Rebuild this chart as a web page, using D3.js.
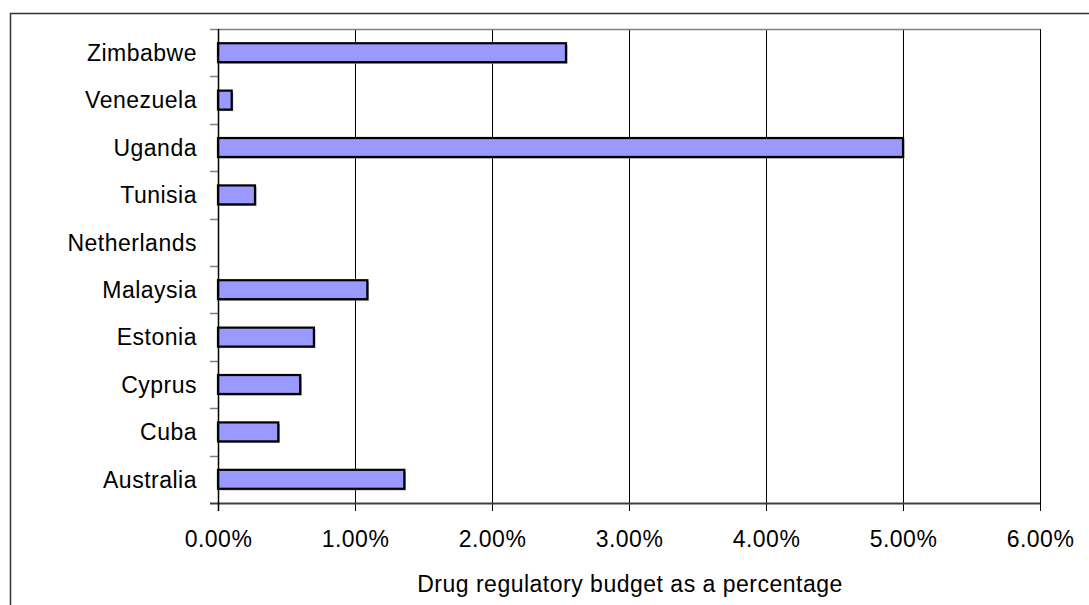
<!DOCTYPE html>
<html>
<head>
<meta charset="utf-8">
<script src="https://cdn.jsdelivr.net/npm/d3@7"></script>
<style>
  html, body { margin: 0; padding: 0; background: #fff; }
  svg { display: block; }
  text { font-family: "Liberation Sans", Arial, sans-serif; font-size: 23px; letter-spacing: 0.5px; fill: #000; }
</style>
</head>
<body>
<svg id="chart" width="1089" height="605"></svg>
<script>
const categories = ["Zimbabwe", "Venezuela", "Uganda", "Tunisia", "Netherlands", "Malaysia", "Estonia", "Cyprus", "Cuba", "Australia"];
const values = [2.54, 0.10, 5.00, 0.27, 0, 1.09, 0.70, 0.60, 0.44, 1.36];
const xTicks = [0, 1, 2, 3, 4, 5, 6];
const xTickLabels = ["0.00%", "1.00%", "2.00%", "3.00%", "4.00%", "5.00%", "6.00%"];
const axisTitle = "Drug regulatory budget as a percentage";

const svg = d3.select("#chart");
const plot = { left: 218, top: 29, right: 1040, bottom: 503 };

// Outer chart frame (extends past the window on right and bottom)
svg.append("rect")
  .attr("x", 10.5).attr("y", 13.5).attr("width", 1200).attr("height", 800)
  .attr("fill", "none").attr("stroke", "#333").attr("stroke-width", 1.5);

const x = d3.scaleLinear().domain([0, 6]).range([plot.left, plot.right]);
const y = d3.scaleBand().domain(categories).range([plot.top, plot.bottom])
  .paddingInner(0.6).paddingOuter(0.3);

// Vertical gridlines (extend down as tick marks)
svg.append("g").selectAll("line").data(xTicks.slice(1)).join("line")
  .attr("x1", d => Math.round(x(d)) + 0.5).attr("x2", d => Math.round(x(d)) + 0.5)
  .attr("y1", plot.top).attr("y2", plot.bottom + 8)
  .attr("stroke", "#000").attr("stroke-width", 1);

// Top border of plot area (grey), including outer tick
svg.append("line")
  .attr("x1", plot.left - 8).attr("x2", plot.right)
  .attr("y1", plot.top + 0.5).attr("y2", plot.top + 0.5)
  .attr("stroke", "#808080").attr("stroke-width", 1.5);

// Category boundary ticks
const step = y.step();
const boundaries = d3.range(1, categories.length).map(i => y.range()[0] + i * step);
svg.append("g").selectAll("line").data(boundaries).join("line")
  .attr("x1", plot.left - 8).attr("x2", plot.left)
  .attr("y1", d => Math.round(d) + 0.5).attr("y2", d => Math.round(d) + 0.5)
  .attr("stroke", "#808080").attr("stroke-width", 1.5);

// Bars: shadow then bar
const data = categories.map((c, i) => ({ cat: c, value: values[i] })).filter(d => d.value > 0);
svg.append("g").selectAll("rect").data(data).join("rect")
  .attr("x", x(0) + 1.5).attr("y", d => y(d.cat) + 1.5)
  .attr("width", d => x(d.value) - x(0)).attr("height", y.bandwidth())
  .attr("fill", "#888");
svg.append("g").selectAll("rect").data(data).join("rect")
  .attr("x", x(0)).attr("y", d => y(d.cat))
  .attr("width", d => x(d.value) - x(0)).attr("height", y.bandwidth())
  .attr("fill", "#9999ff").attr("stroke", "#000").attr("stroke-width", 2.2);

// X axis line
svg.append("line")
  .attr("x1", plot.left - 8).attr("x2", plot.right)
  .attr("y1", plot.bottom + 0.5).attr("y2", plot.bottom + 0.5)
  .attr("stroke", "#404040").attr("stroke-width", 2);

// Y axis line
svg.append("line")
  .attr("x1", plot.left + 0.5).attr("x2", plot.left + 0.5)
  .attr("y1", plot.top).attr("y2", plot.bottom + 8)
  .attr("stroke", "#000").attr("stroke-width", 1.5);

// Category labels
svg.append("g").selectAll("text").data(categories).join("text")
  .attr("x", 197).attr("y", d => y(d) + y.bandwidth() / 2)
  .attr("dy", "0.36em").attr("text-anchor", "end")
  .text(d => d);

// X tick labels
svg.append("g").selectAll("text").data(xTicks).join("text")
  .attr("x", d => x(d) + 0.5).attr("y", 547)
  .attr("text-anchor", "middle")
  .text((d, i) => xTickLabels[i]);

// Axis title
svg.append("text")
  .attr("x", (plot.left + plot.right) / 2 + 1).attr("y", 592)
  .attr("text-anchor", "middle")
  .text(axisTitle);
</script>
</body>
</html>
